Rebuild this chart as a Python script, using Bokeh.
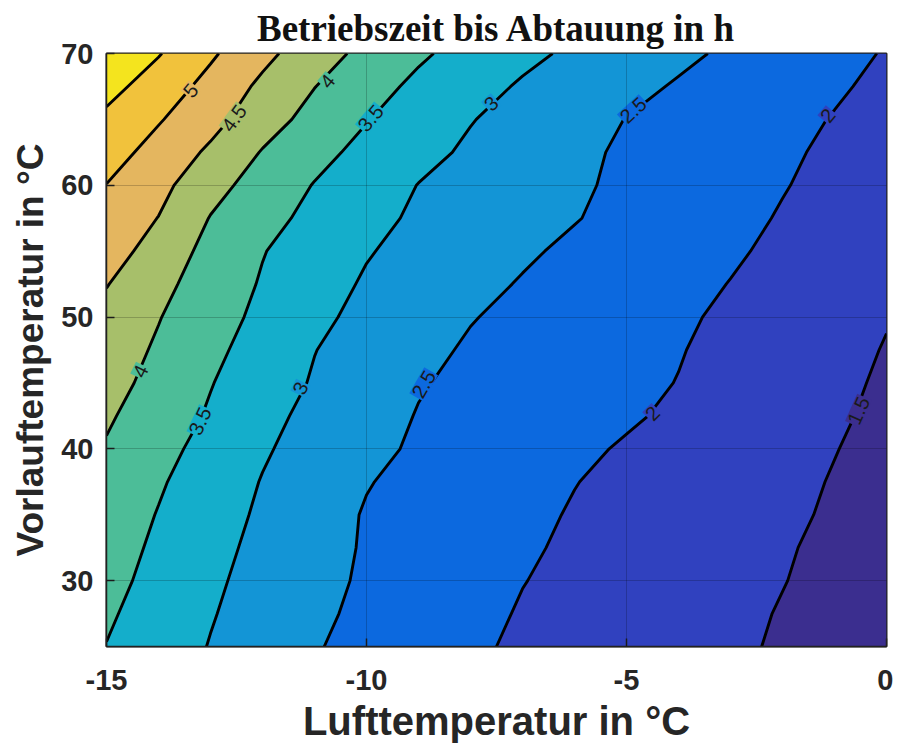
import numpy as np
from bokeh.plotting import figure
from bokeh.models import Range1d, ColumnDataSource, FixedTicker
from bokeh.embed import file_html
from bokeh.resources import INLINE

# ---- data (z = hours, rows = Vorlauftemperatur, cols = Lufttemperatur) ----
x_vals = [-15, -14, -13, -12, -11, -10, -9, -8, -7, -6, -5, -4, -3, -2, -1, 0]
y_vals = [25, 27.5, 30, 32.5, 35, 37.5, 40, 42.5, 45, 47.5, 50, 52.5, 55, 57.5, 60, 62.5, 65, 67.5, 70]
z_y25_0 = [3.49, 3.24, 2.98, 2.76, 2.53, 2.37, 2.22, 2.06, 1.94, 1.85, 1.75, 1.65, 1.56, 1.46, 1.36, 1.27]
z_y27_5 = [3.56, 3.30, 3.03, 2.80, 2.58, 2.41, 2.26, 2.11, 1.97, 1.88, 1.78, 1.68, 1.58, 1.48, 1.39, 1.29]
z_y30_0 = [3.64, 3.36, 3.08, 2.84, 2.63, 2.44, 2.29, 2.15, 2.01, 1.91, 1.81, 1.71, 1.61, 1.51, 1.41, 1.31]
z_y32_5 = [3.70, 3.42, 3.14, 2.88, 2.66, 2.46, 2.32, 2.18, 2.05, 1.94, 1.84, 1.73, 1.63, 1.53, 1.43, 1.33]
z_y35_0 = [3.76, 3.48, 3.20, 2.93, 2.68, 2.47, 2.34, 2.22, 2.09, 1.97, 1.87, 1.77, 1.66, 1.56, 1.46, 1.36]
z_y37_5 = [3.86, 3.55, 3.26, 2.98, 2.75, 2.52, 2.39, 2.26, 2.14, 2.01, 1.91, 1.80, 1.70, 1.59, 1.48, 1.38]
z_y40_0 = [3.96, 3.65, 3.34, 3.05, 2.82, 2.61, 2.44, 2.32, 2.20, 2.08, 1.96, 1.85, 1.74, 1.62, 1.51, 1.40]
z_y42_5 = [4.06, 3.75, 3.45, 3.13, 2.88, 2.67, 2.48, 2.37, 2.26, 2.15, 2.05, 1.93, 1.80, 1.68, 1.55, 1.42]
z_y45_0 = [4.17, 3.85, 3.52, 3.23, 2.96, 2.74, 2.53, 2.41, 2.30, 2.20, 2.09, 1.99, 1.85, 1.72, 1.58, 1.45]
z_y47_5 = [4.24, 3.94, 3.61, 3.30, 3.01, 2.81, 2.61, 2.45, 2.34, 2.24, 2.13, 2.02, 1.89, 1.75, 1.62, 1.48]
z_y50_0 = [4.36, 4.02, 3.70, 3.39, 3.10, 2.88, 2.70, 2.52, 2.40, 2.28, 2.17, 2.06, 1.93, 1.79, 1.66, 1.52]
z_y52_5 = [4.52, 4.13, 3.78, 3.46, 3.19, 2.95, 2.79, 2.62, 2.47, 2.35, 2.23, 2.11, 1.99, 1.85, 1.70, 1.56]
z_y55_0 = [4.74, 4.28, 3.86, 3.52, 3.27, 3.03, 2.86, 2.71, 2.56, 2.42, 2.30, 2.17, 2.05, 1.92, 1.79, 1.66]
z_y57_5 = [4.81, 4.49, 3.98, 3.66, 3.37, 3.13, 2.93, 2.80, 2.66, 2.52, 2.38, 2.24, 2.11, 1.97, 1.84, 1.71]
z_y60_0 = [4.99, 4.64, 4.17, 3.79, 3.48, 3.23, 2.99, 2.85, 2.70, 2.56, 2.42, 2.29, 2.15, 2.02, 1.89, 1.76]
z_y62_5 = [5.21, 4.82, 4.42, 3.97, 3.64, 3.37, 3.13, 2.93, 2.76, 2.59, 2.44, 2.31, 2.19, 2.06, 1.93, 1.80]
z_y65_0 = [5.40, 5.04, 4.66, 4.22, 3.83, 3.52, 3.27, 3.02, 2.84, 2.67, 2.49, 2.37, 2.24, 2.11, 1.98, 1.85]
z_y67_5 = [5.66, 5.27, 4.85, 4.40, 4.01, 3.68, 3.40, 3.17, 2.95, 2.79, 2.62, 2.46, 2.32, 2.18, 2.05, 1.91]
z_y70_0 = [6.00, 5.53, 5.07, 4.63, 4.22, 3.87, 3.57, 3.33, 3.11, 2.92, 2.76, 2.59, 2.43, 2.28, 2.13, 1.97]

levels = [1.0, 1.5, 2.0, 2.5, 3.0, 3.5, 4.0, 4.5, 5.0, 5.5, 6.5]
band_colors = ["#3b2e8f", "#3041bf", "#0c69df", "#1395d6", "#14aecb",
               "#4cbd98", "#a7bf6a", "#e4b65f", "#f1c23c", "#f4e41e"]

label_text = ["5", "4.5", "4", "3.5", "3", "2.5", "2", "4", "3.5", "3", "2.5", "2", "1.5"]
label_level = [5.0, 4.5, 4.0, 3.5, 3.0, 2.5, 2.0, 4.0, 3.5, 3.0, 2.5, 2.0, 1.5]
label_x = [-13.38, -12.55, -10.75, -9.92, -7.6, -4.87, -1.13, -14.35, -13.2, -11.27, -8.9, -4.5, -0.54]
label_y = [67.2, 65.1, 67.9, 65.1, 66.2, 65.7, 65.3, 45.9, 42.1, 44.6, 44.9, 42.7, 42.9]
label_angle = [50, 54, 50, 50, 42, 43, 50, 64, 65, 64, 60, 45, 66]

x_ticks = [-15, -10, -5, 0]
x_tick_text = ["-15", "-10", "-5", "0"]
y_ticks = [30, 40, 50, 60, 70]

title_text = "Betriebszeit bis Abtauung in h"
x_label = "Lufttemperatur in °C"
y_label = "Vorlauftemperatur in °C"

# ---- figure ----
z = np.array([z_y25_0, z_y27_5, z_y30_0, z_y32_5, z_y35_0, z_y37_5, z_y40_0, z_y42_5,
              z_y45_0, z_y47_5, z_y50_0, z_y52_5, z_y55_0, z_y57_5, z_y60_0, z_y62_5,
              z_y65_0, z_y67_5, z_y70_0])

p = figure(width=893, height=756, output_backend="svg", toolbar_location=None,
           x_range=Range1d(-15, 0), y_range=Range1d(25, 70),
           min_border_left=106, min_border_right=7, min_border_top=53, min_border_bottom=110,
           title=title_text)

p.contour(np.array(x_vals, dtype=float), np.array(y_vals, dtype=float), z, levels,
          fill_color=band_colors, line_color="black", line_width=2.9)

# contour labels
bg = [band_colors[levels.index(lv) - 1] for lv in label_level]
src = ColumnDataSource(dict(x=label_x, y=label_y, t=label_text, a=label_angle, bg=bg))
p.text(x="x", y="y", text="t", angle="a", angle_units="deg", source=src,
       text_align="center", text_baseline="middle", text_font_size="20px",
       text_color="#1a1a1a", background_fill_color="bg", padding=1)

# grid on top, like MATLAB
p.grid.level = "overlay"
p.grid.grid_line_color = "black"
p.grid.grid_line_alpha = 0.2
p.grid.grid_line_width = 1
p.xgrid.ticker = FixedTicker(ticks=x_ticks)
p.ygrid.ticker = FixedTicker(ticks=y_ticks)

font = "Liberation Sans"
for ax in (p.xaxis[0], p.yaxis[0]):
    ax.major_tick_in = 8
    ax.major_tick_out = 0
    ax.minor_tick_line_color = None
    ax.axis_line_color = "#222222"
    ax.axis_line_width = 1.5
    ax.major_tick_line_color = "#222222"
    ax.major_tick_line_width = 1.5
    ax.major_label_text_font = font
    ax.major_label_text_font_style = "bold"
    ax.major_label_text_font_size = "29px"
    ax.major_label_text_color = "#262626"
    ax.axis_label_text_font = font
    ax.axis_label_text_font_style = "bold"
    ax.axis_label_text_color = "#262626"

p.xaxis[0].ticker = FixedTicker(ticks=x_ticks)
p.xaxis[0].major_label_overrides = {t: s for t, s in zip(x_ticks, x_tick_text)}
p.yaxis[0].ticker = FixedTicker(ticks=y_ticks)
p.xaxis[0].axis_label = x_label
p.yaxis[0].axis_label = y_label
p.xaxis[0].axis_label_text_font_size = "40px"
p.yaxis[0].axis_label_text_font_size = "37px"
p.xaxis[0].major_label_standoff = 23
p.yaxis[0].major_label_standoff = 13
p.xaxis[0].axis_label_standoff = 6
p.yaxis[0].axis_label_standoff = 7

p.outline_line_color = "#222222"
p.outline_line_width = 2

p.title.text_font = "Liberation Serif"
p.title.text_font_style = "bold"
p.title.text_font_size = "37px"
p.title.align = "center"
p.title.text_color = "#111111"
p.title.standoff = 10

open("out.html", "w").write(file_html(p, INLINE))
